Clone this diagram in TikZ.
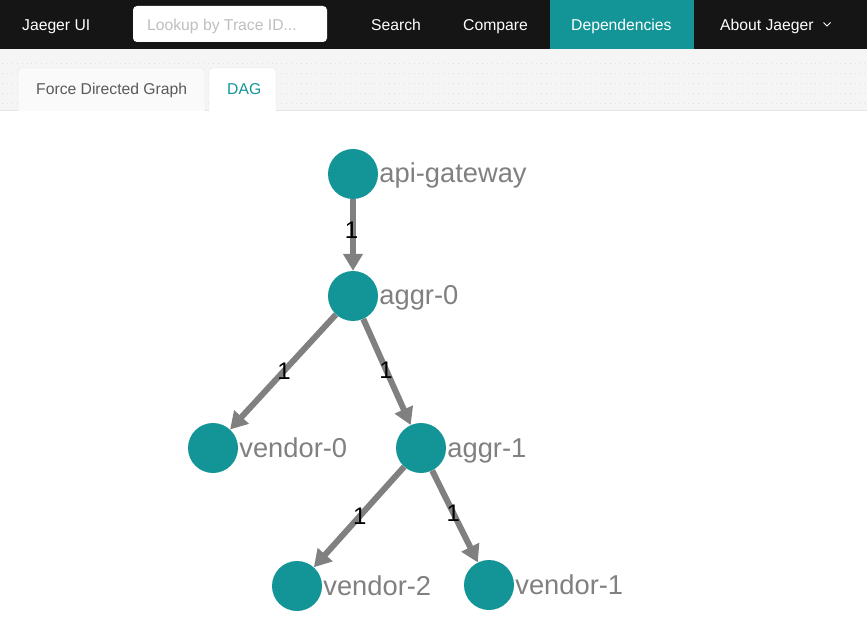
\documentclass[tikz,border=0pt]{standalone}
\usepackage{fontspec}
\setmainfont{Liberation Sans}
\usetikzlibrary{arrows.meta}
\definecolor{jteal}{HTML}{139598}
\definecolor{barblack}{HTML}{151515}
\definecolor{tabbg}{HTML}{F5F5F5}
\definecolor{tabfill}{HTML}{FAFAFA}
\definecolor{tabline}{HTML}{E4E4E4}
\definecolor{dotcol}{HTML}{E2E2E2}
\definecolor{edgegray}{HTML}{808080}
\definecolor{labgray}{HTML}{808080}
\definecolor{phgray}{HTML}{BFBFBF}
\definecolor{tabtext}{HTML}{5A5A5A}
\tikzset{
  vertex/.style={circle, fill=jteal, draw=none, minimum size=50pt, inner sep=0pt},
  nlabel/.style={text=labgray, font=\fontsize{27.3}{30}\selectfont, inner sep=0pt, anchor=base west},
  edgeline/.style={draw=edgegray, line width=6pt, -{Triangle[length=17pt,width=19pt]}},
  elabel/.style={text=black, font=\fontsize{24}{28}\selectfont, inner sep=0pt},
  navtext/.style={text=white, font=\fontsize{15.7}{18}\selectfont, inner sep=0pt, anchor=base west},
  tabtxt/.style={font=\fontsize{15.7}{18}\selectfont, inner sep=0pt, anchor=base west},
  dotrow/.style={draw=dotcol, line width=0.9pt, dash pattern=on 0.9pt off 4pt}
}
\begin{document}
\begin{tikzpicture}[x=1pt,y=-1pt]
\useasboundingbox (0,0) rectangle (867,628);
\fill[white] (0,0) rectangle (867,628);
% top bar
\fill[barblack] (0,0) rectangle (867,49);
\fill[jteal] (550,0) rectangle (694,49);
\node[navtext] (brand) at (22,30.5) {Jaeger UI};
\node[fill=white, rounded corners=4pt, minimum width=194pt, minimum height=36pt, inner sep=0pt] (searchbox) at (230,24) {};
\node[navtext, text=phgray] (placeholder) at (147,30.5) {Lookup by Trace ID...};
\node[navtext] (search) at (371,30.5) {Search};
\node[navtext] (compare) at (463,30.5) {Compare};
\node[navtext] (deps) at (571,30.5) {Dependencies};
\node[navtext] (about) at (720,30.5) {About Jaeger};
\coordinate (chev) at (827,26);
\draw[white, line width=0.8pt] ([xshift=-3.5pt,yshift=3.5pt]chev) -- (chev) -- ([xshift=3.5pt,yshift=3.5pt]chev);
% tab area
\fill[tabbg] (0,49) rectangle (867,110);
\foreach \yy in {63,73,83,93,103} {
  \draw[dotrow] (2,\yy) -- (867,\yy);
}
\draw[tabline, line width=1pt] (0,110.5) -- (867,110.5);
\draw[tabline, fill=tabfill, rounded corners=3pt] (18,111) -- (18,68) -- (205,68) -- (205,111);
\draw[tabline, fill=white, rounded corners=3pt] (209,111) -- (209,68) -- (276,68) -- (276,111);
\fill[white] (209.5,109.5) rectangle (275.5,112);
\node[tabtxt, text=tabtext] (tab1) at (36,94.5) {Force Directed Graph};
\node[tabtxt, text=jteal] (tab2) at (227,94.5) {DAG};
% graph
\node[vertex] (api) at (353,174) {};
\node[vertex] (ag0) at (353,296) {};
\node[vertex] (v0) at (213,448) {};
\node[vertex] (ag1) at (421,448) {};
\node[vertex] (v2) at (297,586) {};
\node[vertex] (v1) at (489,585) {};
\node[nlabel] (apil) at ([xshift=1pt,yshift=-9pt]api.east) {api-gateway};
\node[nlabel] (ag0l) at ([xshift=1pt,yshift=-9pt]ag0.east) {aggr-0};
\node[nlabel] (v0l) at ([xshift=1pt,yshift=-9pt]v0.east) {vendor-0};
\node[nlabel] (ag1l) at ([xshift=1pt,yshift=-9pt]ag1.east) {aggr-1};
\node[nlabel] (v2l) at ([xshift=1pt,yshift=-9pt]v2.east) {vendor-2};
\node[nlabel] (v1l) at ([xshift=1pt,yshift=-9pt]v1.east) {vendor-1};
\draw[edgeline] (api) -- node[elabel, pos=0.43, xshift=-1.5pt] (e1) {1} (ag0);
\draw[edgeline] (ag0) -- node[elabel, pos=0.49] (e2) {1} (v0);
\draw[edgeline] (ag0) -- node[elabel, pos=0.48] (e3) {1} (ag1);
\draw[edgeline] (ag1) -- node[elabel, pos=0.49] (e4) {1} (v2);
\draw[edgeline] (ag1) -- node[elabel, pos=0.46] (e5) {1} (v1);
\end{tikzpicture}
\end{document}
